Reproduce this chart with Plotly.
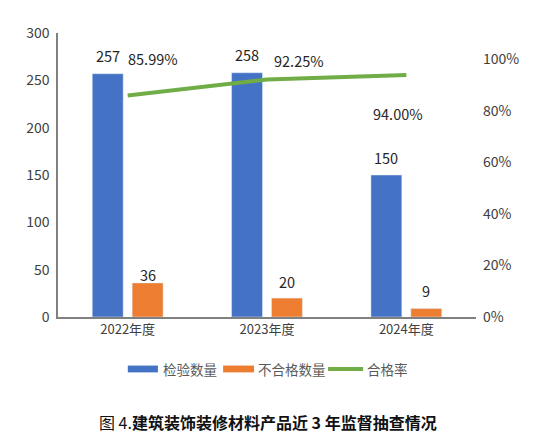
import plotly.graph_objects as go

# data
years = ["2022年度", "2023年度", "2024年度"]
tested = [257, 258, 150]
failed = [36, 20, 9]
pass_rate = [0.8599, 0.9225, 0.94]
pass_labels = ["85.99%", "92.25%", "94.00%"]

blue = "#4472C4"
orange = "#ED7D31"
green = "#70AD47"
font = "Noto Sans CJK SC"

fig = go.Figure()
fig.add_trace(go.Bar(x=years, y=tested, name="检验数量", marker_color=blue))
fig.add_trace(go.Bar(x=years, y=failed, name="不合格数量", marker_color=orange))
fig.add_trace(go.Scatter(x=years, y=pass_rate, name="合格率", yaxis="y2",
                         mode="lines", line=dict(color=green, width=4)))

ann = []
# bar value labels (pixel offsets: blue bar left of centre, orange right)
bar_lift = {"tested": [18, 18, 18], "failed": [8, 17, 18]}
for i, yr in enumerate(years):
    ann.append(dict(x=yr, y=tested[i], text=str(tested[i]), showarrow=False,
                    xshift=-20, yshift=bar_lift["tested"][i], yanchor="middle"))
    ann.append(dict(x=yr, y=failed[i], text=str(failed[i]), showarrow=False,
                    xshift=20, yshift=bar_lift["failed"][i], yanchor="middle"))

# line labels, placed as in the original
line_shift = [(25, 37), (32, 19), (-8, -39)]
for i, yr in enumerate(years):
    dx, dy = line_shift[i]
    ann.append(dict(x=yr, y=pass_rate[i], yref="y2", text=pass_labels[i],
                    showarrow=False, xshift=dx, yshift=dy, yanchor="middle"))

for a in ann:
    a["font"] = dict(family=font, size=14.5, color="#262626")

# custom legend below the plot (wide swatches like the original)
shapes = []
legend_items = [("检验数量", blue, "bar", 0.167, 0.239, 0.316),
                ("不合格数量", orange, "bar", 0.395, 0.469, 0.561),
                ("合格率", green, "line", 0.646, 0.730, 0.788)]
ly = -0.183
for label, col, kind, x0, x1, tx in legend_items:
    if kind == "bar":
        shapes.append(dict(type="rect", xref="paper", yref="paper",
                           x0=x0, x1=x1, y0=ly - 0.012, y1=ly + 0.012,
                           fillcolor=col, line=dict(width=0)))
    else:
        shapes.append(dict(type="line", xref="paper", yref="paper",
                           x0=x0, x1=x1, y0=ly, y1=ly,
                           line=dict(color=col, width=4)))
    ann.append(dict(x=tx, y=ly, xref="paper", yref="paper", text=label,
                    showarrow=False, xanchor="center", yanchor="middle",
                    font=dict(family=font, size=13.5, color="#595959")))

ann.append(dict(x=0.502, y=-0.37, xref="paper", yref="paper",
                text="图 4.<b>建筑装饰装修材料产品近 3 年监督抽查情况</b>",
                showarrow=False, xanchor="center", yanchor="middle",
                font=dict(family=font, size=16, color="#111111")))

fig.update_layout(
    width=544, height=440,
    margin=dict(l=58, r=68, t=33, b=123),
    paper_bgcolor="white", plot_bgcolor="white",
    barmode="group", bargap=0.427, bargroupgap=0.225,
    showlegend=False,
    font=dict(family=font, size=13, color="#404040"),
    xaxis=dict(showline=True, linecolor="#808080", linewidth=1.5,
               ticks="", tickfont=dict(size=13, color="#404040")),
    yaxis=dict(range=[0, 300], dtick=50, showgrid=False, zeroline=False,
               showline=True, linecolor="#808080", linewidth=1.5,
               ticks="", ticklabelstandoff=4,
               tickfont=dict(size=14, color="#404040")),
    yaxis2=dict(range=[0, 1.103], overlaying="y", side="right",
                tickvals=[0, 0.2, 0.4, 0.6, 0.8, 1.0],
                ticktext=["0%", "20%", "40%", "60%", "80%", "100%"],
                showgrid=False, zeroline=False, showline=False,
                ticks="", ticklabelstandoff=6,
                tickfont=dict(size=14, color="#404040")),
    annotations=ann,
    shapes=shapes,
)

# drop the default page margin so the figure fills the window
fig.write_html("out.html", config={"displayModeBar": False},
               post_script="document.body.style.margin='0';")
